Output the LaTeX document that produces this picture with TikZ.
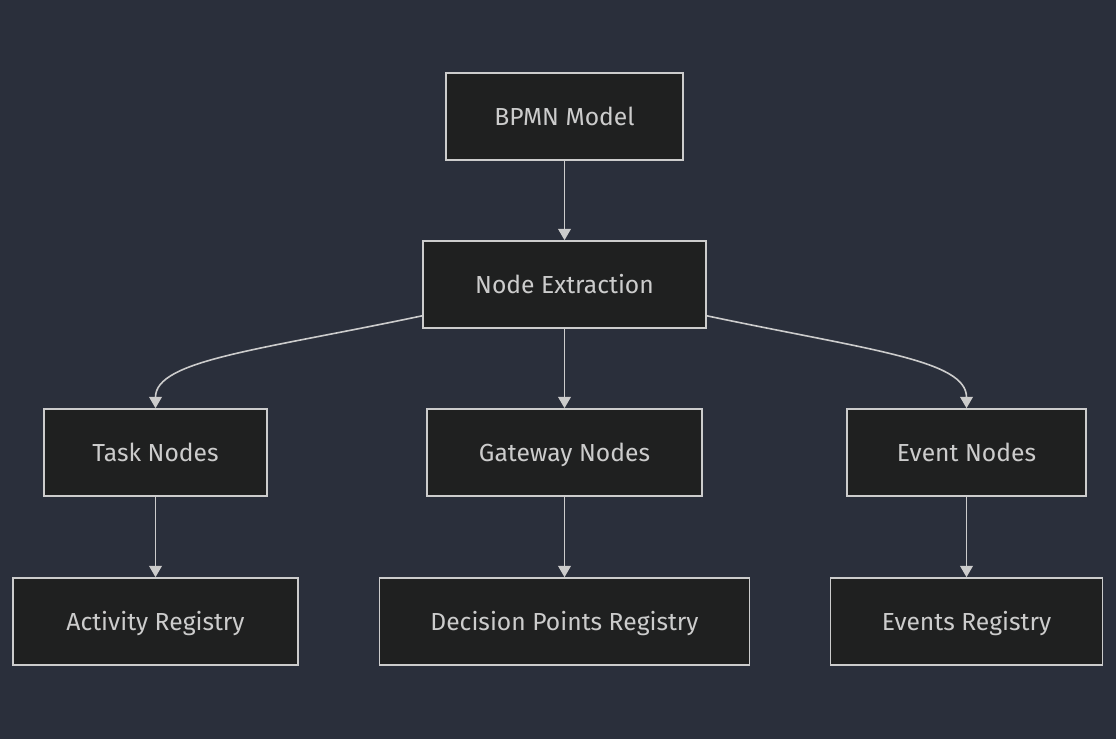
\documentclass[tikz,border=0pt]{standalone}
\usepackage{fontspec}
\setmainfont{Fira Sans}
\usetikzlibrary{arrows.meta}
\definecolor{bgc}{HTML}{2A2F3B}
\definecolor{boxfill}{HTML}{1F2020}
\definecolor{boxline}{HTML}{CCCCCC}
\definecolor{txt}{HTML}{CCCCCC}
\tikzset{
  box/.style={draw=boxline, fill=boxfill, line width=1.2pt, text=txt,
    minimum height=65.25pt, inner sep=0pt, text height=13pt, text depth=0pt,
    font=\fontsize{18.5}{21}\selectfont},
  conn/.style={draw=boxline, line width=1.2pt,
    -{Triangle[width=9.5pt,length=8.5pt]}},
}
\begin{document}
\begin{tikzpicture}[x=0.75pt,y=-0.75pt]
\fill[bgc] (0,0) rectangle (1116,739);
\useasboundingbox (0,0) rectangle (1116,739);
\node[box, minimum width=177.75pt] (bpmn) at (564.5,116.5) {BPMN Model};
\node[box, minimum width=212.25pt] (ext) at (564.5,284.5) {Node Extraction};
\node[box, minimum width=167.25pt] (task) at (155.5,452.5) {Task Nodes};
\node[box, minimum width=206.25pt] (gate) at (564.5,452.5) {Gateway Nodes};
\node[box, minimum width=179.25pt] (event) at (966.5,452.5) {Event Nodes};
\node[box, minimum width=213.75pt] (act) at (155.5,621.5) {Activity Registry};
\node[box, minimum width=277.5pt] (dec) at (564.5,621.5) {Decision Points Registry};
\node[box, minimum width=204pt] (evr) at (966.5,621.5) {Events Registry};
\draw[conn] (bpmn) -- (ext);
\draw[conn] (ext) -- (gate);
\draw[conn] (task) -- (act);
\draw[conn] (gate) -- (dec);
\draw[conn] (event) -- (evr);
\draw[conn] ([yshift=9.75pt]ext.south west) .. controls (260,350) and (155.5,360) .. (task.north);
\draw[conn] ([yshift=9.75pt]ext.south east) .. controls (869,350) and (966.5,360) .. (event.north);
\end{tikzpicture}
\end{document}
